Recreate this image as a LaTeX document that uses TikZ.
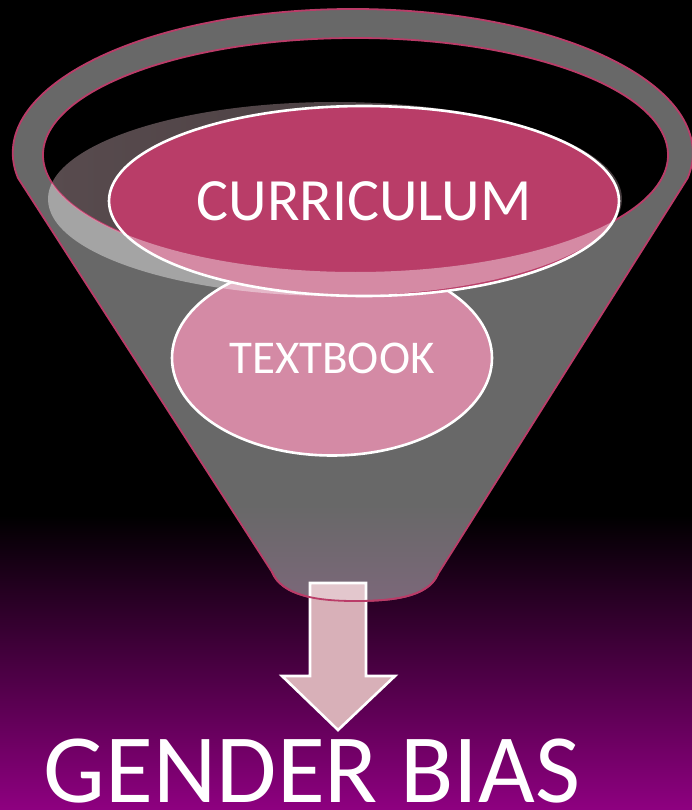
\documentclass[tikz,border=0pt]{standalone}
\usepackage{fontspec}
\setmainfont{Carlito}
\usetikzlibrary{shapes.geometric, positioning}
\definecolor{rimgray}{RGB}{104,104,104}
\definecolor{rimline}{RGB}{186,60,104}
\definecolor{currpink}{RGB}{185,61,104}
\definecolor{bookpink}{RGB}{212,138,165}
\definecolor{liquid}{RGB}{88,75,78}
\definecolor{bgpurple}{RGB}{142,0,128}
\definecolor{arrowpink}{RGB}{216,176,184}
\definecolor{funnelmauve}{RGB}{124,104,122}

\begin{document}
\begin{tikzpicture}[x=1pt,y=-1pt,
    rim/.style={draw=rimline,line width=1.8pt},
    level node/.style={ellipse,draw=white,line width=2.6pt,text=white,inner sep=0pt},
    flow/.style={fill=arrowpink,draw=white,line width=2.6pt,line join=miter}]

\fill[black] (0,0) rectangle (692,810);
\shade[top color=black,bottom color=bgpurple] (0,515) rectangle (692,810);
\useasboundingbox (0,0) rectangle (692,810);

\def\funnel{(18,178) arc[start angle=190,end angle=-10,x radius=340pt,y radius=144pt]
  -- (438,574) .. controls (428,598) and (390,601) .. (355,601)
  .. controls (318,601) and (282,596) .. (272,572) -- cycle}
\def\hole{(355.5,155) ellipse[x radius=312.5pt,y radius=117pt]}
\def\surface{(335,199) ellipse[x radius=287pt,y radius=97pt]}

\fill[rimgray] \funnel;
\begin{scope}
\clip \funnel;
\shade[top color=rimgray,bottom color=funnelmauve] (0,505) rectangle (692,603);
\end{scope}
\fill[black] \hole;
\begin{scope}
\clip \hole;
\shade[left color=liquid,right color=liquid!75!black] \surface;
\end{scope}
\draw[rim] \funnel;
\draw[rim] \hole;

\node[level node,fill=bookpink,minimum width=320pt,minimum height=195pt,
  font=\fontsize{47}{47}\selectfont] (textbook) at (332,358) {TEXTBOOK};
\node[level node,fill=currpink,minimum width=510pt,minimum height=190pt,
  font=\fontsize{60}{60}\selectfont] (curriculum) at (364,201) {CURRICULUM};

\begin{scope}
\clip \surface;
\fill[white,opacity=0.4,even odd rule] (0,0) rectangle (692,810) \hole;
\end{scope}

\draw[flow] (310,583) -- (366,583) -- (366,676) -- (395,676) -- (338,730)
  -- (282,676) -- (310,676) -- cycle;
\begin{scope}
\clip \funnel;
\fill[white,opacity=0.3] (310,583) rectangle (366,605);
\end{scope}
\draw[rim] (438,574) .. controls (428,598) and (390,601) .. (355,601)
  .. controls (318,601) and (282,596) .. (272,572);

\node[anchor=base,text=white,font=\fontsize{98}{98}\selectfont,inner sep=0pt,text depth=0pt]
  (bias) at (312,802) {GENDER BIAS};
\end{tikzpicture}
\end{document}
